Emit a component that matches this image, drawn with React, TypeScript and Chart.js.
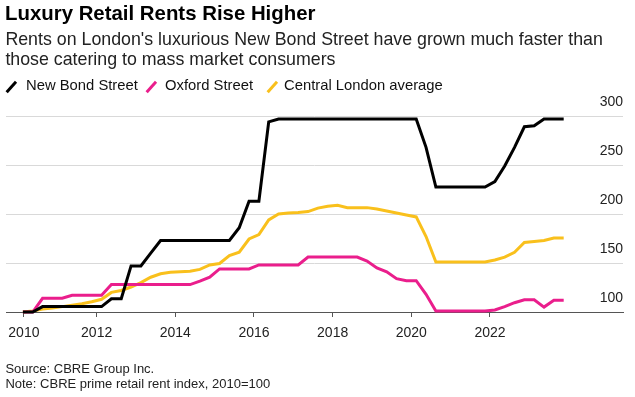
import React, { useEffect, useRef } from "react";
import { Chart, registerables } from "chart.js";

Chart.register(...registerables);

// Quarterly observations, 2010 Q1 – 2023 Q4
const quarters: string[] = [];
for (let y = 2010; y <= 2023; y++) {
  for (let q = 1; q <= 4; q++) quarters.push(`${y} Q${q}`);
}

const newBondStreet = [
  100, 100, 105.5, 105.5, 105.5, 105.5, 105.5, 105.5,
  105.5, 113.5, 113.5, 147, 147, 160, 173, 173,
  173, 173, 173, 173, 173, 173, 186, 213,
  213, 294, 297, 297, 297, 297, 297, 297,
  297, 297, 297, 297, 297, 297, 297, 297,
  297, 268, 227.5, 227.5, 227.5, 227.5, 227.5, 227.5,
  233, 249, 268, 289, 290, 297, 297, 297,
];

const oxfordStreet = [
  100, 100, 114, 114, 114, 117, 117, 117,
  117, 128, 128, 128, 128, 128, 128, 128,
  128, 128, 131.5, 135.5, 144, 144, 144, 144,
  148, 148, 148, 148, 148, 156, 156, 156,
  156, 156, 156, 152, 145, 141, 134, 132,
  132, 118, 101, 101, 101, 101, 101, 101,
  102, 105.5, 109.5, 112.5, 112.5, 105, 112, 112,
];

const centralLondon = [
  100, 101, 103, 104, 105.5, 107, 108.5, 110.5,
  113, 120, 122, 125.5, 130, 135.5, 139, 140.5,
  141, 141.5, 143.5, 148, 149.5, 157.5, 161, 174.5,
  179, 194, 200, 201, 201.5, 202.5, 206, 208,
  209, 206.5, 206.5, 206.5, 205, 203, 201, 199,
  197, 177, 151, 151, 151, 151, 151, 151,
  153, 156, 161, 171, 172, 173, 175.5, 175.5,
];

const xTickYears = [2010, 2012, 2014, 2016, 2018, 2020, 2022];
const yTickValues = [100, 150, 200, 250, 300];

const seriesNames = ["New Bond Street", "Oxford Street", "Central London average"];
const seriesColors = ["#000000", "#ea1e8c", "#f9c01c"];

const FONT = "'Liberation Sans', Arial, sans-serif";

function quarterToX(label: string): number {
  const [y, q] = label.split(" Q");
  return Number(y) + (Number(q) - 0.5) / 4;
}

function toPoints(values: number[]) {
  return quarters.map((q, i) => ({ x: quarterToX(q), y: values[i] }));
}

export default function App() {
  const canvasRef = useRef<HTMLCanvasElement | null>(null);

  useEffect(() => {
    const canvas = canvasRef.current;
    if (!canvas) return;
    const allSeries = [newBondStreet, oxfordStreet, centralLondon];
    const chart = new Chart(canvas, {
      type: "line",
      data: {
        datasets: allSeries.map((vals, i) => ({
          label: seriesNames[i],
          data: toPoints(vals),
          borderColor: seriesColors[i],
          backgroundColor: seriesColors[i],
          borderWidth: 3,
          pointRadius: 0,
          tension: 0,
          clip: false as any,
          borderJoinStyle: "miter" as const,
        })),
      },
      options: {
        responsive: false,
        maintainAspectRatio: false,
        animation: false,
        layout: { padding: { left: 6, right: 12, top: 116, bottom: 47.2 } },
        plugins: {
          legend: { display: false },
          tooltip: { enabled: false },
          title: { display: false },
        },
        scales: {
          x: {
            type: "linear",
            min: 2009.695,
            max: 2025.383,
            afterBuildTicks: (scale: any) => {
              scale.ticks = xTickYears.map((y) => ({ value: y === 2010 ? 2010.15 : y }));
            },
            ticks: {
              callback: (v: any) => String(Math.round(Number(v))),
              font: { family: FONT, size: 14 },
              color: "#222",
              padding: 8,
              maxRotation: 0,
              autoSkip: false,
            },
            grid: { drawOnChartArea: false, drawTicks: true, tickLength: 5, color: "#555" },
            border: { display: true, color: "#555", width: 1 },
          },
          y: {
            type: "linear",
            position: "right",
            min: 100,
            max: 300,
            afterBuildTicks: (scale: any) => {
              scale.ticks = yTickValues.map((v) => ({ value: v }));
            },
            ticks: {
              mirror: true,
              padding: 0,
              labelOffset: -14,
              crossAlign: "near",
              font: { family: FONT, size: 14 },
              color: "#222",
            },
            grid: {
              drawTicks: false,
              lineWidth: 1,
              color: (ctx: any) =>
                ctx.tick && ctx.tick.value === 100 ? "rgba(0,0,0,0)" : "#d9d9d9",
            },
            border: { display: false },
          },
        },
      },
    });
    return () => chart.destroy();
  }, []);

  const legendIcon = (cx: number, color: string) => (
    <div
      style={{
        position: "absolute",
        left: cx - 1.5,
        top: 79.5,
        width: 3,
        height: 13.5,
        background: color,
        transform: "rotate(42deg)",
      }}
    />
  );

  const legendTextStyle = (left: number): React.CSSProperties => ({
    position: "absolute",
    left,
    top: 76.3,
    fontSize: 14.8,
    lineHeight: "18px",
    color: "#111",
    whiteSpace: "nowrap",
  });

  return (
    <div
      style={{
        position: "absolute",
        left: 0,
        top: 0,
        width: 635,
        height: 397,
        fontFamily: FONT,
        background: "#fff",
        overflow: "hidden",
      }}
    >
      <canvas
        ref={canvasRef}
        width={635}
        height={397}
        style={{ position: "absolute", left: 0, top: 0, width: 635, height: 397 }}
      />
      <div
        style={{
          position: "absolute",
          left: 5,
          top: 1,
          fontSize: 20.4,
          lineHeight: "24px",
          fontWeight: 700,
          color: "#000",
          whiteSpace: "nowrap",
        }}
      >
        Luxury Retail Rents Rise Higher
      </div>
      <div
        style={{
          position: "absolute",
          left: 5.4,
          top: 29.1,
          fontSize: 17.8,
          lineHeight: "20px",
          color: "#222",
          whiteSpace: "nowrap",
        }}
      >
        Rents on London's luxurious New Bond Street have grown much faster than
        <br />
        those catering to mass market consumers
      </div>
      {legendIcon(11.5, seriesColors[0])}
      <div style={legendTextStyle(26)}>{seriesNames[0]}</div>
      {legendIcon(151.5, seriesColors[1])}
      <div style={legendTextStyle(165)}>{seriesNames[1]}</div>
      {legendIcon(272, seriesColors[2])}
      <div style={legendTextStyle(284)}>{seriesNames[2]}</div>
      <div
        style={{
          position: "absolute",
          left: 5.4,
          top: 361,
          fontSize: 13,
          lineHeight: "15px",
          color: "#222",
          whiteSpace: "nowrap",
        }}
      >
        Source: CBRE Group Inc.
        <br />
        Note: CBRE prime retail rent index, 2010=100
      </div>
    </div>
  );
}
